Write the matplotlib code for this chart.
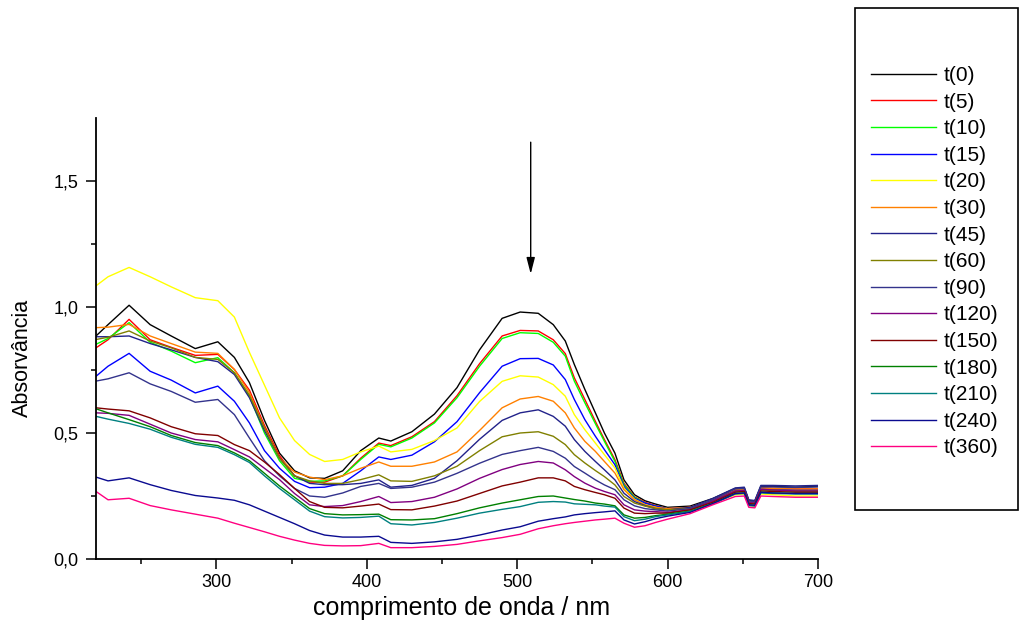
import matplotlib
matplotlib.use('Agg')
import matplotlib.pyplot as plt
from matplotlib.patches import Rectangle
from matplotlib.ticker import MultipleLocator, FixedLocator, FixedFormatter

plt.rcParams['font.family'] = ['Liberation Sans', 'DejaVu Sans']

# wavelength grid (nm)
wl = [220, 228, 242, 256, 270, 286, 301, 312, 322, 332, 342, 352, 362, 372, 384, 396, 408, 416, 430, 445,
      460, 475, 490, 502, 514, 524, 532, 538, 545, 552, 558, 565, 571, 578, 585, 592, 600, 615, 630, 645,
      651, 654, 658, 662, 670, 685, 700]

t0 = [0.885, 0.93, 1.007, 0.93, 0.885, 0.835, 0.862, 0.80, 0.70, 0.55, 0.42, 0.35, 0.322, 0.32, 0.35, 0.43, 0.48, 0.468, 0.505, 0.575,
      0.68, 0.83, 0.955, 0.98, 0.975, 0.93, 0.865, 0.772, 0.673, 0.58, 0.50, 0.42, 0.314, 0.255, 0.231, 0.218, 0.205, 0.21, 0.24, 0.28,
      0.282, 0.232, 0.23, 0.288, 0.288, 0.285, 0.288]
t5 = [0.838, 0.87, 0.951, 0.87, 0.84, 0.808, 0.812, 0.752, 0.67, 0.53, 0.41, 0.33, 0.305, 0.305, 0.33, 0.40, 0.46, 0.45, 0.485, 0.545,
      0.648, 0.775, 0.885, 0.907, 0.905, 0.87, 0.815, 0.719, 0.633, 0.546, 0.474, 0.394, 0.30, 0.247, 0.225, 0.212, 0.20, 0.205, 0.235, 0.275,
      0.277, 0.228, 0.226, 0.282, 0.28, 0.278, 0.278]
t10 = [0.852, 0.875, 0.938, 0.86, 0.825, 0.779, 0.799, 0.739, 0.645, 0.50, 0.39, 0.32, 0.308, 0.31, 0.33, 0.395, 0.455, 0.445, 0.48, 0.54,
       0.64, 0.765, 0.875, 0.898, 0.895, 0.86, 0.805, 0.706, 0.62, 0.537, 0.467, 0.387, 0.295, 0.245, 0.222, 0.21, 0.20, 0.20, 0.23, 0.268,
       0.27, 0.222, 0.22, 0.275, 0.272, 0.27, 0.27]
t15 = [0.725, 0.765, 0.816, 0.745, 0.71, 0.659, 0.686, 0.626, 0.54, 0.43, 0.36, 0.308, 0.283, 0.285, 0.30, 0.35, 0.405, 0.395, 0.412, 0.465,
       0.545, 0.66, 0.765, 0.795, 0.796, 0.77, 0.712, 0.633, 0.553, 0.487, 0.434, 0.374, 0.288, 0.241, 0.222, 0.21, 0.20, 0.203, 0.235, 0.272,
       0.275, 0.226, 0.224, 0.28, 0.278, 0.275, 0.275]
t20 = [1.084, 1.12, 1.157, 1.12, 1.08, 1.037, 1.025, 0.96, 0.82, 0.69, 0.56, 0.47, 0.415, 0.387, 0.395, 0.425, 0.448, 0.425, 0.435, 0.47,
       0.52, 0.625, 0.705, 0.727, 0.722, 0.692, 0.646, 0.573, 0.513, 0.46, 0.414, 0.361, 0.281, 0.237, 0.215, 0.205, 0.195, 0.198, 0.222, 0.255,
       0.258, 0.212, 0.21, 0.258, 0.255, 0.25, 0.25]
t30 = [0.918, 0.92, 0.931, 0.885, 0.855, 0.821, 0.816, 0.752, 0.66, 0.52, 0.40, 0.345, 0.325, 0.315, 0.33, 0.36, 0.385, 0.368, 0.368, 0.385,
       0.425, 0.51, 0.60, 0.635, 0.645, 0.626, 0.58, 0.52, 0.467, 0.427, 0.387, 0.341, 0.275, 0.235, 0.215, 0.205, 0.20, 0.205, 0.235, 0.275,
       0.277, 0.228, 0.226, 0.282, 0.28, 0.278, 0.278]
t45 = [0.882, 0.882, 0.885, 0.855, 0.83, 0.80, 0.783, 0.732, 0.64, 0.51, 0.40, 0.33, 0.30, 0.295, 0.295, 0.30, 0.314, 0.285, 0.292, 0.32,
       0.39, 0.475, 0.55, 0.58, 0.592, 0.566, 0.527, 0.474, 0.427, 0.387, 0.354, 0.314, 0.261, 0.228, 0.212, 0.20, 0.195, 0.205, 0.24, 0.282,
       0.285, 0.235, 0.232, 0.292, 0.292, 0.29, 0.292]
t60 = [0.871, 0.88, 0.905, 0.865, 0.838, 0.80, 0.792, 0.739, 0.65, 0.52, 0.40, 0.33, 0.31, 0.30, 0.30, 0.315, 0.334, 0.31, 0.308, 0.33,
       0.368, 0.43, 0.485, 0.50, 0.505, 0.487, 0.454, 0.414, 0.381, 0.351, 0.327, 0.294, 0.248, 0.222, 0.21, 0.20, 0.195, 0.20, 0.23, 0.27,
       0.272, 0.224, 0.222, 0.276, 0.274, 0.27, 0.27]
t90 = [0.706, 0.715, 0.739, 0.695, 0.665, 0.622, 0.633, 0.573, 0.48, 0.39, 0.33, 0.28, 0.25, 0.245, 0.262, 0.288, 0.30, 0.28, 0.285, 0.305,
       0.34, 0.38, 0.415, 0.43, 0.443, 0.427, 0.40, 0.367, 0.341, 0.314, 0.294, 0.275, 0.235, 0.211, 0.20, 0.195, 0.19, 0.20, 0.235, 0.278,
       0.28, 0.23, 0.228, 0.286, 0.286, 0.284, 0.286]
t120 = [0.58, 0.578, 0.57, 0.535, 0.50, 0.474, 0.465, 0.434, 0.405, 0.36, 0.315, 0.26, 0.215, 0.208, 0.212, 0.228, 0.248, 0.224, 0.228, 0.245,
        0.278, 0.32, 0.355, 0.375, 0.387, 0.381, 0.354, 0.327, 0.301, 0.281, 0.268, 0.255, 0.215, 0.195, 0.19, 0.188, 0.185, 0.195, 0.23, 0.27,
        0.272, 0.224, 0.222, 0.276, 0.274, 0.27, 0.27]
t150 = [0.60, 0.595, 0.588, 0.56, 0.525, 0.497, 0.49, 0.454, 0.43, 0.385, 0.335, 0.28, 0.228, 0.205, 0.203, 0.21, 0.218, 0.196, 0.195, 0.21,
        0.23, 0.26, 0.29, 0.305, 0.322, 0.322, 0.31, 0.288, 0.275, 0.264, 0.255, 0.241, 0.202, 0.182, 0.18, 0.182, 0.182, 0.195, 0.225, 0.265,
        0.268, 0.22, 0.218, 0.27, 0.268, 0.265, 0.265]
t180 = [0.596, 0.58, 0.553, 0.525, 0.49, 0.462, 0.45, 0.421, 0.39, 0.34, 0.29, 0.245, 0.20, 0.18, 0.175, 0.176, 0.178, 0.156, 0.155, 0.16,
        0.18, 0.203, 0.222, 0.235, 0.248, 0.25, 0.242, 0.236, 0.23, 0.222, 0.218, 0.211, 0.175, 0.162, 0.165, 0.172, 0.178, 0.19, 0.22, 0.26,
        0.262, 0.215, 0.213, 0.265, 0.262, 0.26, 0.26]
t210 = [0.566, 0.555, 0.538, 0.515, 0.483, 0.455, 0.443, 0.414, 0.383, 0.33, 0.28, 0.235, 0.19, 0.168, 0.163, 0.165, 0.17, 0.14, 0.135, 0.145,
        0.162, 0.182, 0.197, 0.208, 0.225, 0.228, 0.226, 0.219, 0.217, 0.215, 0.21, 0.206, 0.168, 0.152, 0.158, 0.168, 0.175, 0.188, 0.218, 0.258,
        0.26, 0.212, 0.21, 0.262, 0.26, 0.258, 0.258]
t240 = [0.325, 0.31, 0.322, 0.295, 0.272, 0.252, 0.242, 0.233, 0.215, 0.19, 0.165, 0.14, 0.113, 0.095, 0.087, 0.087, 0.09, 0.066, 0.062, 0.068,
        0.078, 0.095, 0.115, 0.128, 0.15, 0.16, 0.167, 0.175, 0.18, 0.184, 0.187, 0.191, 0.155, 0.139, 0.148, 0.16, 0.17, 0.185, 0.22, 0.26,
        0.262, 0.215, 0.213, 0.265, 0.262, 0.26, 0.26]
t360 = [0.268, 0.235, 0.241, 0.212, 0.195, 0.178, 0.162, 0.142, 0.125, 0.108, 0.09, 0.075, 0.062, 0.054, 0.052, 0.053, 0.062, 0.045, 0.045, 0.05,
        0.058, 0.072, 0.085, 0.098, 0.12, 0.132, 0.14, 0.145, 0.15, 0.155, 0.158, 0.162, 0.142, 0.126, 0.132, 0.145, 0.158, 0.18, 0.215, 0.248,
        0.25, 0.205, 0.203, 0.25, 0.248, 0.245, 0.245]

labels = ['t(0)', 't(5)', 't(10)', 't(15)', 't(20)', 't(30)', 't(45)', 't(60)', 't(90)',
          't(120)', 't(150)', 't(180)', 't(210)', 't(240)', 't(360)']
series = [t0, t5, t10, t15, t20, t30, t45, t60, t90, t120, t150, t180, t210, t240, t360]
colors = ['#000000', '#FF0000', '#00FF00', '#0000FF', '#FFFF00', '#FF8000', '#22228A', '#808000',
          '#33338C', '#800080', '#800000', '#008000', '#008080', '#0A0A90', '#FF0080']

fig = plt.figure(figsize=(10.28, 6.28), dpi=100)
ax = fig.add_axes([96 / 1028, 1 - 559 / 628, (818 - 96) / 1028, (559 - 118) / 628])

handles = []
for y, c, lab in zip(series, colors, labels):
    h, = ax.plot(wl, y, color=c, lw=1.0, label=lab)
    handles.append(h)

ax.set_xlim(220, 700)
ax.set_ylim(0, 1.75)
ax.xaxis.set_major_locator(MultipleLocator(100))
ax.xaxis.set_minor_locator(FixedLocator([250, 350, 450, 550, 650]))
ax.yaxis.set_major_locator(FixedLocator([0, 0.5, 1.0, 1.5]))
ax.yaxis.set_major_formatter(FixedFormatter(['0,0', '0,5', '1,0', '1,5']))
ax.yaxis.set_minor_locator(FixedLocator([0.25, 0.75, 1.25]))
ax.tick_params(which='major', direction='out', length=7.5, width=1.1, labelsize=13)
ax.tick_params(which='minor', direction='out', length=3.8, width=1.1)
ax.tick_params(axis='x', pad=3)
ax.tick_params(axis='y', pad=5)
for s in ['top', 'right']:
    ax.spines[s].set_visible(False)
for s in ['left', 'bottom']:
    ax.spines[s].set_linewidth(1.3)

ax.set_xlabel('comprimento de onda / nm', fontsize=18)
ax.set_ylabel('Absorvância', fontsize=15.5)
ax.xaxis.set_label_coords(0.507, -0.085)
ax.yaxis.set_label_coords(-0.088, 0.456)

ax.annotate('', xy=(509, 1.12), xytext=(509, 1.665),
            arrowprops=dict(arrowstyle='-|>,head_length=0.7,head_width=0.18',
                            color='black', lw=1.0, mutation_scale=14))

# legend box
fig.patches.append(Rectangle((855 / 1028, 1 - 510 / 628), (1018 - 855) / 1028, (510 - 8) / 628,
                             transform=fig.transFigure, fill=False, edgecolor='black', lw=1.2))
fig.legend(handles, labels, loc='upper left', bbox_to_anchor=(871 / 1028, 1 - 66 / 628),
           frameon=False, fontsize=15, handlelength=3.1, handletextpad=0.4,
           labelspacing=0.365, borderpad=0, borderaxespad=0)

fig.savefig('out.png', dpi=100)
